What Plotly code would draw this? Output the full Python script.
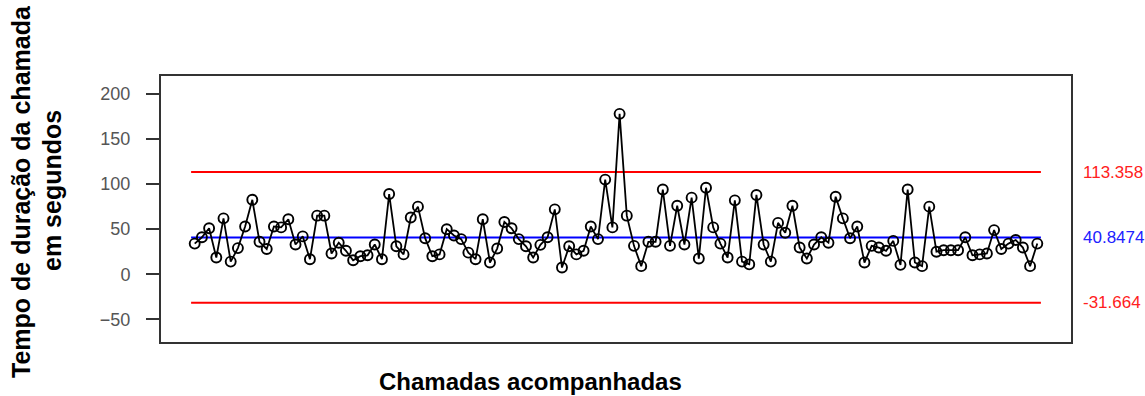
import plotly.graph_objects as go

duracao = [
    34, 41, 51, 18.5, 62, 14, 29, 53, 82.6, 36,
    28, 53, 52, 61, 33, 42, 16.7, 65, 65, 23,
    35, 26, 15.5, 20, 21, 33, 16.7, 89, 31, 22,
    63, 75, 40, 20, 22, 50, 43, 39, 24, 16.7,
    61, 13, 28.5, 58, 51, 39, 31, 18.5, 32.6, 41,
    72, 7.4, 31, 22, 26, 53, 39, 105, 52, 178,
    65, 31.5, 9, 36, 36, 94, 31.5, 76, 33, 85,
    17.4, 96, 52, 34, 18.5, 82, 14, 11, 88, 33,
    14, 57, 46, 76, 29.6, 17.4, 33, 41, 35, 86,
    62, 40, 53, 13, 31.5, 29.6, 26, 37, 10.4, 94,
    13, 9, 75, 25, 26.7, 26.7, 26.7, 41, 21, 22,
    23, 49, 28, 34, 38, 29.6, 9, 34,
]
chamadas = list(range(1, len(duracao) + 1))

# Control limits
lsc = 113.358
lc = 40.8474
lic = -31.664
limite_labels = ["113.358", "40.8474", "-31.664"]
limite_vals = [lsc, lc, lic]
limite_cores = ["#ff2020", "#2020ff", "#ff2020"]

y_ticks = [-50, 0, 50, 100, 150, 200]

n = len(duracao)
x_span = [0.5, n + 0.5]
pad = (n - 1) * 0.04

fig = go.Figure()

for val, cor in zip(limite_vals, ["#ff0000", "#0000ff", "#ff0000"]):
    fig.add_trace(go.Scatter(
        x=x_span, y=[val, val], mode="lines",
        line=dict(color=cor, width=2), hoverinfo="skip", showlegend=False,
    ))

fig.add_trace(go.Scatter(
    x=chamadas, y=duracao, mode="lines+markers",
    line=dict(color="black", width=1.8),
    marker=dict(symbol="circle-open", size=10, color="black",
                line=dict(color="black", width=1.9)),
    showlegend=False,
))

for txt, val, cor in zip(limite_labels, limite_vals, limite_cores):
    fig.add_annotation(
        x=1.0115, xref="paper", y=val, yref="y", text=txt,
        showarrow=False, xanchor="left", yanchor="middle",
        font=dict(family="Liberation Sans, Arial, sans-serif", size=17, color=cor),
    )

fig.add_annotation(
    x=-0.1538, xref="paper", y=0.564, yref="paper",
    text="<b>Tempo de duração da chamada</b>", textangle=-90,
    showarrow=False, xanchor="center", yanchor="middle",
    font=dict(family="Liberation Sans, Arial, sans-serif", size=25, color="black"),
)
fig.add_annotation(
    x=-0.1198, xref="paper", y=0.5714, yref="paper",
    text="<b>em segundos</b>", textangle=-90,
    showarrow=False, xanchor="center", yanchor="middle",
    font=dict(family="Liberation Sans, Arial, sans-serif", size=25, color="black"),
)
fig.add_annotation(
    x=0.4055, xref="paper", y=-0.149, yref="paper",
    text="<b>Chamadas acompanhadas</b>",
    showarrow=False, xanchor="center", yanchor="middle",
    font=dict(family="Liberation Sans, Arial, sans-serif", size=24, color="black"),
)

fig.update_layout(
    width=1145, height=396,
    margin=dict(l=161, r=74, t=76, b=54),
    paper_bgcolor="white", plot_bgcolor="white",
    font=dict(family="Liberation Sans, Arial, sans-serif"),
    xaxis=dict(
        range=[1 - pad, n + pad], showgrid=False, zeroline=False,
        showticklabels=False, ticks="",
        showline=True, mirror=True, linecolor="#333333", linewidth=2,
    ),
    yaxis=dict(
        range=[-75.2, 220], tickvals=y_ticks, showgrid=False, zeroline=False,
        ticks="outside", ticklen=13, tickwidth=2, tickcolor="#333333",
        tickfont=dict(size=18, color="#555555"),
        ticklabelstandoff=12,
        showline=True, mirror=True, linecolor="#333333", linewidth=2,
    ),
)

fig.write_html("out.html")
